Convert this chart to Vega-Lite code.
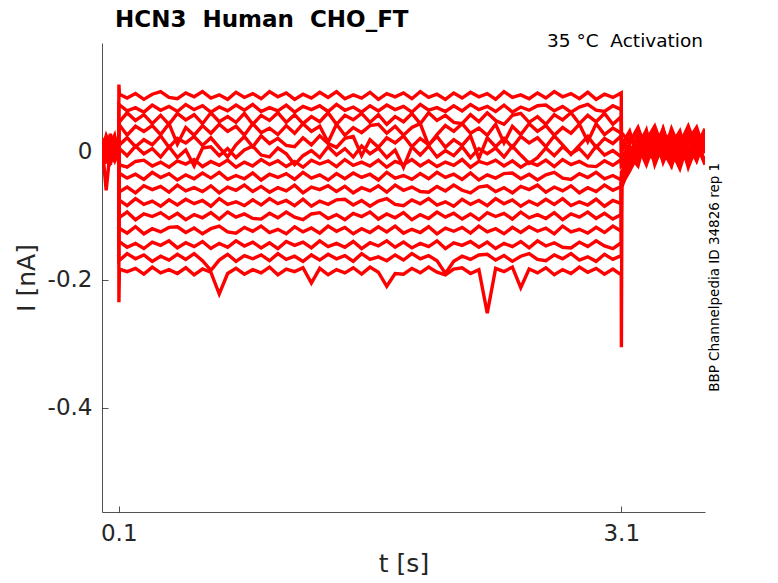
{
  "$schema": "https://vega.github.io/schema/vega-lite/v6.json",
  "width": 603,
  "height": 469,
  "autosize": {"type": "none"},
  "padding": {"left": 102, "top": 43, "right": 73, "bottom": 71},
  "background": "white",
  "datasets": {
    "traces": [
      {"s":1,"t":0,"i":0.01},{"s":1,"t":0.025,"i":-0.008},{"s":1,"t":0.05,"i":0.02},{"s":1,"t":0.075,"i":0.005},{"s":1,"t":0.1,"i":0.012},
      {"s":1,"t":0.101,"i":0.105},{"s":1,"t":0.104,"i":0.09},{"s":1,"t":0.15,"i":0.084},{"s":1,"t":0.2,"i":0.091},{"s":1,"t":0.25,"i":0.082},{"s":1,"t":0.3,"i":0.09},{"s":1,"t":0.35,"i":0.094},{"s":1,"t":0.4,"i":0.085},{"s":1,"t":0.45,"i":0.083},{"s":1,"t":0.5,"i":0.092},{"s":1,"t":0.55,"i":0.086},
      {"s":1,"t":0.6,"i":0.094},{"s":1,"t":0.65,"i":0.084},{"s":1,"t":0.7,"i":0.089},{"s":1,"t":0.75,"i":0.082},{"s":1,"t":0.8,"i":0.093},{"s":1,"t":0.85,"i":0.085},{"s":1,"t":0.9,"i":0.091},{"s":1,"t":0.95,"i":0.083},{"s":1,"t":1,"i":0.094},{"s":1,"t":1.05,"i":0.086},
      {"s":1,"t":1.1,"i":0.092},{"s":1,"t":1.15,"i":0.082},{"s":1,"t":1.2,"i":0.09},{"s":1,"t":1.25,"i":0.084},{"s":1,"t":1.3,"i":0.093},{"s":1,"t":1.35,"i":0.085},{"s":1,"t":1.4,"i":0.094},{"s":1,"t":1.45,"i":0.083},{"s":1,"t":1.5,"i":0.089},{"s":1,"t":1.55,"i":0.084},
      {"s":1,"t":1.6,"i":0.093},{"s":1,"t":1.65,"i":0.082},{"s":1,"t":1.7,"i":0.091},{"s":1,"t":1.75,"i":0.086},{"s":1,"t":1.8,"i":0.092},{"s":1,"t":1.85,"i":0.083},{"s":1,"t":1.9,"i":0.094},{"s":1,"t":1.95,"i":0.085},{"s":1,"t":2,"i":0.09},{"s":1,"t":2.05,"i":0.082},
      {"s":1,"t":2.1,"i":0.092},{"s":1,"t":2.15,"i":0.084},{"s":1,"t":2.2,"i":0.093},{"s":1,"t":2.25,"i":0.086},{"s":1,"t":2.3,"i":0.091},{"s":1,"t":2.35,"i":0.082},{"s":1,"t":2.4,"i":0.094},{"s":1,"t":2.45,"i":0.085},{"s":1,"t":2.5,"i":0.089},{"s":1,"t":2.55,"i":0.083},
      {"s":1,"t":2.6,"i":0.092},{"s":1,"t":2.65,"i":0.084},{"s":1,"t":2.7,"i":0.094},{"s":1,"t":2.75,"i":0.086},{"s":1,"t":2.8,"i":0.091},{"s":1,"t":2.85,"i":0.083},{"s":1,"t":2.9,"i":0.093},{"s":1,"t":2.95,"i":0.082},{"s":1,"t":3,"i":0.09},{"s":1,"t":3.05,"i":0.085},{"s":1,"t":3.1,"i":0.092},
      {"s":1,"t":3.101,"i":0.03},{"s":1,"t":3.15,"i":0.015},{"s":1,"t":3.2,"i":0.038},{"s":1,"t":3.25,"i":0.002},{"s":1,"t":3.3,"i":0.025},{"s":1,"t":3.35,"i":-0.01},{"s":1,"t":3.4,"i":0.032},{"s":1,"t":3.45,"i":0.012},{"s":1,"t":3.5,"i":0.04},{"s":1,"t":3.55,"i":0.005},{"s":1,"t":3.6,"i":0.028},

      {"s":2,"t":0,"i":-0.005},{"s":2,"t":0.025,"i":0.015},{"s":2,"t":0.05,"i":-0.012},{"s":2,"t":0.075,"i":0.022},{"s":2,"t":0.1,"i":0},
      {"s":2,"t":0.101,"i":0.074},{"s":2,"t":0.15,"i":0.064},{"s":2,"t":0.2,"i":0.069},{"s":2,"t":0.25,"i":0.062},{"s":2,"t":0.3,"i":0.073},{"s":2,"t":0.35,"i":0.065},{"s":2,"t":0.4,"i":0.071},{"s":2,"t":0.45,"i":0.063},{"s":2,"t":0.5,"i":0.074},{"s":2,"t":0.55,"i":0.066},
      {"s":2,"t":0.6,"i":0.072},{"s":2,"t":0.65,"i":0.062},{"s":2,"t":0.7,"i":0.07},{"s":2,"t":0.75,"i":0.064},{"s":2,"t":0.8,"i":0.073},{"s":2,"t":0.85,"i":0.065},{"s":2,"t":0.9,"i":0.074},{"s":2,"t":0.95,"i":0.063},{"s":2,"t":1,"i":0.069},{"s":2,"t":1.05,"i":0.064},
      {"s":2,"t":1.1,"i":0.073},{"s":2,"t":1.15,"i":0.062},{"s":2,"t":1.2,"i":0.071},{"s":2,"t":1.25,"i":0.066},{"s":2,"t":1.3,"i":0.072},{"s":2,"t":1.35,"i":0.063},{"s":2,"t":1.4,"i":0.074},{"s":2,"t":1.45,"i":0.065},{"s":2,"t":1.5,"i":0.07},{"s":2,"t":1.55,"i":0.062},
      {"s":2,"t":1.6,"i":0.072},{"s":2,"t":1.65,"i":0.064},{"s":2,"t":1.7,"i":0.073},{"s":2,"t":1.75,"i":0.066},{"s":2,"t":1.8,"i":0.071},{"s":2,"t":1.85,"i":0.062},{"s":2,"t":1.9,"i":0.074},{"s":2,"t":1.95,"i":0.065},{"s":2,"t":2,"i":0.069},{"s":2,"t":2.05,"i":0.063},
      {"s":2,"t":2.1,"i":0.072},{"s":2,"t":2.15,"i":0.064},{"s":2,"t":2.2,"i":0.074},{"s":2,"t":2.25,"i":0.066},{"s":2,"t":2.3,"i":0.071},{"s":2,"t":2.35,"i":0.063},{"s":2,"t":2.4,"i":0.073},{"s":2,"t":2.45,"i":0.062},{"s":2,"t":2.5,"i":0.07},{"s":2,"t":2.55,"i":0.065},
      {"s":2,"t":2.6,"i":0.072},{"s":2,"t":2.65,"i":0.073},{"s":2,"t":2.7,"i":0.064},{"s":2,"t":2.75,"i":0.071},{"s":2,"t":2.8,"i":0.062},{"s":2,"t":2.85,"i":0.07},{"s":2,"t":2.9,"i":0.074},{"s":2,"t":2.95,"i":0.065},{"s":2,"t":3,"i":0.063},{"s":2,"t":3.05,"i":0.072},{"s":2,"t":3.1,"i":0.066},
      {"s":2,"t":3.101,"i":0.02},{"s":2,"t":3.15,"i":-0.005},{"s":2,"t":3.2,"i":0.028},{"s":2,"t":3.25,"i":0.01},{"s":2,"t":3.3,"i":-0.015},{"s":2,"t":3.35,"i":0.035},{"s":2,"t":3.4,"i":0},{"s":2,"t":3.45,"i":0.022},{"s":2,"t":3.5,"i":-0.008},{"s":2,"t":3.55,"i":0.03},{"s":2,"t":3.6,"i":0.014},

      {"s":3,"t":0,"i":0.018},{"s":3,"t":0.025,"i":0.002},{"s":3,"t":0.05,"i":-0.015},{"s":3,"t":0.075,"i":0.01},{"s":3,"t":0.1,"i":-0.006},
      {"s":3,"t":0.101,"i":0.046},{"s":3,"t":0.15,"i":0.061},{"s":3,"t":0.2,"i":0.049},{"s":3,"t":0.25,"i":0.058},{"s":3,"t":0.3,"i":0.044},{"s":3,"t":0.35,"i":0.057},{"s":3,"t":0.4,"i":0.043},{"s":3,"t":0.45,"i":0.06},{"s":3,"t":0.5,"i":0.05},{"s":3,"t":0.55,"i":0.058},
      {"s":3,"t":0.6,"i":0.044},{"s":3,"t":0.65,"i":0.061},{"s":3,"t":0.7,"i":0.047},{"s":3,"t":0.75,"i":0.055},{"s":3,"t":0.8,"i":0.046},{"s":3,"t":0.85,"i":0.06},{"s":3,"t":0.9,"i":0.043},{"s":3,"t":0.95,"i":0.057},{"s":3,"t":1,"i":0.049},{"s":3,"t":1.05,"i":0.061},
      {"s":3,"t":1.1,"i":0.046},{"s":3,"t":1.15,"i":0.058},{"s":3,"t":1.2,"i":0.044},{"s":3,"t":1.25,"i":0.055},{"s":3,"t":1.3,"i":0.047},{"s":3,"t":1.35,"i":0.061},{"s":3,"t":1.4,"i":0.043},{"s":3,"t":1.45,"i":0.057},{"s":3,"t":1.5,"i":0.05},{"s":3,"t":1.55,"i":0.06},
      {"s":3,"t":1.6,"i":0.046},{"s":3,"t":1.65,"i":0.058},{"s":3,"t":1.7,"i":0.043},{"s":3,"t":1.75,"i":0.055},{"s":3,"t":1.8,"i":0.047},{"s":3,"t":1.85,"i":0.06},{"s":3,"t":1.9,"i":0.044},{"s":3,"t":1.95,"i":0.061},{"s":3,"t":2,"i":0.049},{"s":3,"t":2.05,"i":0.057},
      {"s":3,"t":2.1,"i":0.046},{"s":3,"t":2.15,"i":0.044},{"s":3,"t":2.2,"i":0.058},{"s":3,"t":2.25,"i":0.047},{"s":3,"t":2.3,"i":0.061},{"s":3,"t":2.35,"i":0.049},{"s":3,"t":2.4,"i":0.043},{"s":3,"t":2.45,"i":0.057},{"s":3,"t":2.5,"i":0.06},{"s":3,"t":2.55,"i":0.046},
      {"s":3,"t":2.6,"i":0.055},{"s":3,"t":2.65,"i":0.043},{"s":3,"t":2.7,"i":0.058},{"s":3,"t":2.75,"i":0.05},{"s":3,"t":2.8,"i":0.061},{"s":3,"t":2.85,"i":0.044},{"s":3,"t":2.9,"i":0.057},{"s":3,"t":2.95,"i":0.047},{"s":3,"t":3,"i":0.06},{"s":3,"t":3.05,"i":0.043},{"s":3,"t":3.1,"i":0.055},
      {"s":3,"t":3.101,"i":0.01},{"s":3,"t":3.15,"i":0.032},{"s":3,"t":3.2,"i":-0.012},{"s":3,"t":3.25,"i":0.018},{"s":3,"t":3.3,"i":0.04},{"s":3,"t":3.35,"i":0.004},{"s":3,"t":3.4,"i":0.02},{"s":3,"t":3.45,"i":-0.018},{"s":3,"t":3.5,"i":0.026},{"s":3,"t":3.55,"i":0.008},{"s":3,"t":3.6,"i":0.036},

      {"s":4,"t":0,"i":0},{"s":4,"t":0.025,"i":0.025},{"s":4,"t":0.05,"i":0.008},{"s":4,"t":0.075,"i":-0.01},{"s":4,"t":0.1,"i":0.015},
      {"s":4,"t":0.101,"i":0.043},{"s":4,"t":0.15,"i":0.026},{"s":4,"t":0.2,"i":0.04},{"s":4,"t":0.25,"i":0.032},{"s":4,"t":0.3,"i":0.041},{"s":4,"t":0.35,"i":0.027},{"s":4,"t":0.4,"i":0.044},{"s":4,"t":0.45,"i":0.012},{"s":4,"t":0.5,"i":0.038},{"s":4,"t":0.55,"i":0.026},
      {"s":4,"t":0.6,"i":0.041},{"s":4,"t":0.65,"i":0.029},{"s":4,"t":0.7,"i":0.043},{"s":4,"t":0.75,"i":0.032},{"s":4,"t":0.8,"i":0.04},{"s":4,"t":0.85,"i":0.026},{"s":4,"t":0.9,"i":0.044},{"s":4,"t":0.95,"i":0.03},{"s":4,"t":1,"i":0.037},{"s":4,"t":1.05,"i":0.027},
      {"s":4,"t":1.1,"i":0.041},{"s":4,"t":1.15,"i":0.029},{"s":4,"t":1.2,"i":0.044},{"s":4,"t":1.25,"i":0.032},{"s":4,"t":1.3,"i":0.04},{"s":4,"t":1.35,"i":0.015},{"s":4,"t":1.4,"i":0.043},{"s":4,"t":1.45,"i":0.026},{"s":4,"t":1.5,"i":0.038},{"s":4,"t":1.55,"i":0.03},
      {"s":4,"t":1.6,"i":0.041},{"s":4,"t":1.65,"i":0.043},{"s":4,"t":1.7,"i":0.029},{"s":4,"t":1.75,"i":0.04},{"s":4,"t":1.8,"i":0.026},{"s":4,"t":1.85,"i":0.038},{"s":4,"t":1.9,"i":0.044},{"s":4,"t":1.95,"i":0.01},{"s":4,"t":2,"i":0.027},{"s":4,"t":2.05,"i":0.041},
      {"s":4,"t":2.1,"i":0.032},{"s":4,"t":2.15,"i":0.044},{"s":4,"t":2.2,"i":0.029},{"s":4,"t":2.25,"i":0.037},{"s":4,"t":2.3,"i":0.026},{"s":4,"t":2.35,"i":0.043},{"s":4,"t":2.4,"i":0.014},{"s":4,"t":2.45,"i":0.04},{"s":4,"t":2.5,"i":0.027},{"s":4,"t":2.55,"i":0.044},
      {"s":4,"t":2.6,"i":0.032},{"s":4,"t":2.65,"i":0.041},{"s":4,"t":2.7,"i":0.026},{"s":4,"t":2.75,"i":0.038},{"s":4,"t":2.8,"i":0.029},{"s":4,"t":2.85,"i":0.043},{"s":4,"t":2.9,"i":0.016},{"s":4,"t":2.95,"i":0.044},{"s":4,"t":3,"i":0.027},{"s":4,"t":3.05,"i":0.037},{"s":4,"t":3.1,"i":0.029},
      {"s":4,"t":3.101,"i":0},{"s":4,"t":3.15,"i":0.022},{"s":4,"t":3.2,"i":0.006},{"s":4,"t":3.25,"i":0.034},{"s":4,"t":3.3,"i":-0.02},{"s":4,"t":3.35,"i":0.014},{"s":4,"t":3.4,"i":0.03},{"s":4,"t":3.45,"i":-0.005},{"s":4,"t":3.5,"i":0.018},{"s":4,"t":3.55,"i":0.038},{"s":4,"t":3.6,"i":-0.002},

      {"s":5,"t":0,"i":-0.012},{"s":5,"t":0.025,"i":0.005},{"s":5,"t":0.05,"i":0.028},{"s":5,"t":0.075,"i":-0.004},{"s":5,"t":0.1,"i":0.008},
      {"s":5,"t":0.101,"i":0.01},{"s":5,"t":0.15,"i":0.022},{"s":5,"t":0.2,"i":0.008},{"s":5,"t":0.25,"i":0.019},{"s":5,"t":0.3,"i":0.011},{"s":5,"t":0.35,"i":0.025},{"s":5,"t":0.4,"i":0.007},{"s":5,"t":0.45,"i":0.021},{"s":5,"t":0.5,"i":0.014},{"s":5,"t":0.55,"i":0.024},
      {"s":5,"t":0.6,"i":0.01},{"s":5,"t":0.65,"i":0.022},{"s":5,"t":0.7,"i":0.007},{"s":5,"t":0.75,"i":-0.008},{"s":5,"t":0.8,"i":0.011},{"s":5,"t":0.85,"i":0.024},{"s":5,"t":0.9,"i":0.008},{"s":5,"t":0.95,"i":0.025},{"s":5,"t":1,"i":0.013},{"s":5,"t":1.05,"i":0.021},
      {"s":5,"t":1.1,"i":0.01},{"s":5,"t":1.15,"i":0.008},{"s":5,"t":1.2,"i":0.022},{"s":5,"t":1.25,"i":0.011},{"s":5,"t":1.3,"i":0.025},{"s":5,"t":1.35,"i":0.013},{"s":5,"t":1.4,"i":0.007},{"s":5,"t":1.45,"i":0.021},{"s":5,"t":1.5,"i":0.024},{"s":5,"t":1.55,"i":-0.006},
      {"s":5,"t":1.6,"i":0.019},{"s":5,"t":1.65,"i":0.007},{"s":5,"t":1.7,"i":0.022},{"s":5,"t":1.75,"i":0.014},{"s":5,"t":1.8,"i":0.025},{"s":5,"t":1.85,"i":0.008},{"s":5,"t":1.9,"i":0.021},{"s":5,"t":1.95,"i":0.011},{"s":5,"t":2,"i":0.024},{"s":5,"t":2.05,"i":0.007},
      {"s":5,"t":2.1,"i":0.019},{"s":5,"t":2.15,"i":0.01},{"s":5,"t":2.2,"i":0.025},{"s":5,"t":2.25,"i":-0.01},{"s":5,"t":2.3,"i":0.022},{"s":5,"t":2.35,"i":0.008},{"s":5,"t":2.4,"i":0.021},{"s":5,"t":2.45,"i":0.007},{"s":5,"t":2.5,"i":0.024},{"s":5,"t":2.55,"i":0.014},
      {"s":5,"t":2.6,"i":0.022},{"s":5,"t":2.65,"i":0.008},{"s":5,"t":2.7,"i":0.025},{"s":5,"t":2.75,"i":0.011},{"s":5,"t":2.8,"i":-0.004},{"s":5,"t":2.85,"i":0.01},{"s":5,"t":2.9,"i":0.024},{"s":5,"t":2.95,"i":0.007},{"s":5,"t":3,"i":0.021},{"s":5,"t":3.05,"i":0.013},{"s":5,"t":3.1,"i":0.025},
      {"s":5,"t":3.101,"i":-0.01},{"s":5,"t":3.15,"i":0.012},{"s":5,"t":3.2,"i":0.036},{"s":5,"t":3.25,"i":-0.008},{"s":5,"t":3.3,"i":0.024},{"s":5,"t":3.35,"i":0.002},{"s":5,"t":3.4,"i":-0.022},{"s":5,"t":3.45,"i":0.028},{"s":5,"t":3.5,"i":0.01},{"s":5,"t":3.55,"i":-0.014},{"s":5,"t":3.6,"i":0.024},

      {"s":6,"t":0,"i":0.022},{"s":6,"t":0.025,"i":-0.01},{"s":6,"t":0.05,"i":0.004},{"s":6,"t":0.075,"i":0.016},{"s":6,"t":0.1,"i":-0.014},
      {"s":6,"t":0.101,"i":0.006},{"s":6,"t":0.15,"i":-0.006},{"s":6,"t":0.2,"i":0.009},{"s":6,"t":0.25,"i":-0.003},{"s":6,"t":0.3,"i":0.005},{"s":6,"t":0.35,"i":-0.008},{"s":6,"t":0.4,"i":0.008},{"s":6,"t":0.45,"i":-0.009},{"s":6,"t":0.5,"i":0.003},{"s":6,"t":0.55,"i":-0.022},
      {"s":6,"t":0.6,"i":0.006},{"s":6,"t":0.65,"i":0.008},{"s":6,"t":0.7,"i":-0.006},{"s":6,"t":0.75,"i":0.005},{"s":6,"t":0.8,"i":-0.009},{"s":6,"t":0.85,"i":0.003},{"s":6,"t":0.9,"i":0.009},{"s":6,"t":0.95,"i":-0.005},{"s":6,"t":1,"i":-0.008},{"s":6,"t":1.05,"i":0.006},
      {"s":6,"t":1.1,"i":-0.003},{"s":6,"t":1.15,"i":-0.02},{"s":6,"t":1.2,"i":-0.006},{"s":6,"t":1.25,"i":0.002},{"s":6,"t":1.3,"i":-0.009},{"s":6,"t":1.35,"i":0.008},{"s":6,"t":1.4,"i":-0.005},{"s":6,"t":1.45,"i":0.005},{"s":6,"t":1.5,"i":-0.008},{"s":6,"t":1.55,"i":0.009},
      {"s":6,"t":1.6,"i":-0.003},{"s":6,"t":1.65,"i":0.006},{"s":6,"t":1.7,"i":-0.009},{"s":6,"t":1.75,"i":0.003},{"s":6,"t":1.8,"i":-0.024},{"s":6,"t":1.85,"i":0.008},{"s":6,"t":1.9,"i":-0.005},{"s":6,"t":1.95,"i":0.009},{"s":6,"t":2,"i":-0.008},{"s":6,"t":2.05,"i":0.002},
      {"s":6,"t":2.1,"i":-0.006},{"s":6,"t":2.15,"i":0.008},{"s":6,"t":2.2,"i":-0.009},{"s":6,"t":2.25,"i":0.005},{"s":6,"t":2.3,"i":-0.003},{"s":6,"t":2.35,"i":0.006},{"s":6,"t":2.4,"i":-0.008},{"s":6,"t":2.45,"i":0.009},{"s":6,"t":2.5,"i":-0.005},{"s":6,"t":2.55,"i":-0.018},
      {"s":6,"t":2.6,"i":-0.009},{"s":6,"t":2.65,"i":0.006},{"s":6,"t":2.7,"i":-0.006},{"s":6,"t":2.75,"i":0.008},{"s":6,"t":2.8,"i":-0.003},{"s":6,"t":2.85,"i":0.005},{"s":6,"t":2.9,"i":-0.009},{"s":6,"t":2.95,"i":0.009},{"s":6,"t":3,"i":-0.005},{"s":6,"t":3.05,"i":0.002},{"s":6,"t":3.1,"i":-0.008},
      {"s":6,"t":3.101,"i":-0.02},{"s":6,"t":3.15,"i":0.002},{"s":6,"t":3.2,"i":0.016},{"s":6,"t":3.25,"i":0.03},{"s":6,"t":3.3,"i":0},{"s":6,"t":3.35,"i":0.026},{"s":6,"t":3.4,"i":0.012},{"s":6,"t":3.45,"i":-0.01},{"s":6,"t":3.5,"i":0.034},{"s":6,"t":3.55,"i":0.016},{"s":6,"t":3.6,"i":0.004},

      {"s":7,"t":0,"i":0.006},{"s":7,"t":0.025,"i":0.018},{"s":7,"t":0.05,"i":-0.02},{"s":7,"t":0.075,"i":0.012},{"s":7,"t":0.1,"i":0.003},
      {"s":7,"t":0.101,"i":-0.02},{"s":7,"t":0.15,"i":-0.024},{"s":7,"t":0.2,"i":-0.015},{"s":7,"t":0.25,"i":-0.013},{"s":7,"t":0.3,"i":-0.022},{"s":7,"t":0.35,"i":-0.016},{"s":7,"t":0.4,"i":-0.024},{"s":7,"t":0.45,"i":-0.014},{"s":7,"t":0.5,"i":-0.019},{"s":7,"t":0.55,"i":-0.012},
      {"s":7,"t":0.6,"i":-0.023},{"s":7,"t":0.65,"i":-0.015},{"s":7,"t":0.7,"i":-0.021},{"s":7,"t":0.75,"i":-0.013},{"s":7,"t":0.8,"i":-0.024},{"s":7,"t":0.85,"i":-0.016},{"s":7,"t":0.9,"i":-0.022},{"s":7,"t":0.95,"i":-0.012},{"s":7,"t":1,"i":-0.02},{"s":7,"t":1.05,"i":-0.014},
      {"s":7,"t":1.1,"i":-0.023},{"s":7,"t":1.15,"i":-0.015},{"s":7,"t":1.2,"i":-0.024},{"s":7,"t":1.25,"i":-0.013},{"s":7,"t":1.3,"i":-0.019},{"s":7,"t":1.35,"i":-0.014},{"s":7,"t":1.4,"i":-0.023},{"s":7,"t":1.45,"i":-0.012},{"s":7,"t":1.5,"i":-0.021},{"s":7,"t":1.55,"i":-0.016},
      {"s":7,"t":1.6,"i":-0.022},{"s":7,"t":1.65,"i":-0.013},{"s":7,"t":1.7,"i":-0.024},{"s":7,"t":1.75,"i":-0.015},{"s":7,"t":1.8,"i":-0.02},{"s":7,"t":1.85,"i":-0.012},{"s":7,"t":1.9,"i":-0.022},{"s":7,"t":1.95,"i":-0.014},{"s":7,"t":2,"i":-0.023},{"s":7,"t":2.05,"i":-0.016},
      {"s":7,"t":2.1,"i":-0.021},{"s":7,"t":2.15,"i":-0.012},{"s":7,"t":2.2,"i":-0.024},{"s":7,"t":2.25,"i":-0.015},{"s":7,"t":2.3,"i":-0.019},{"s":7,"t":2.35,"i":-0.013},{"s":7,"t":2.4,"i":-0.022},{"s":7,"t":2.45,"i":-0.014},{"s":7,"t":2.5,"i":-0.024},{"s":7,"t":2.55,"i":-0.016},
      {"s":7,"t":2.6,"i":-0.021},{"s":7,"t":2.65,"i":-0.013},{"s":7,"t":2.7,"i":-0.023},{"s":7,"t":2.75,"i":-0.012},{"s":7,"t":2.8,"i":-0.02},{"s":7,"t":2.85,"i":-0.015},{"s":7,"t":2.9,"i":-0.022},{"s":7,"t":2.95,"i":-0.023},{"s":7,"t":3,"i":-0.014},{"s":7,"t":3.05,"i":-0.021},{"s":7,"t":3.1,"i":-0.012},
      {"s":7,"t":3.101,"i":-0.025},{"s":7,"t":3.15,"i":0.008},{"s":7,"t":3.2,"i":-0.014},{"s":7,"t":3.25,"i":0.022},{"s":7,"t":3.3,"i":0.014},{"s":7,"t":3.35,"i":-0.006},{"s":7,"t":3.4,"i":0.036},{"s":7,"t":3.45,"i":0.004},{"s":7,"t":3.5,"i":-0.018},{"s":7,"t":3.55,"i":0.026},{"s":7,"t":3.6,"i":0.01},

      {"s":8,"t":0,"i":-0.015},{"s":8,"t":0.025,"i":0.01},{"s":8,"t":0.05,"i":0.002},{"s":8,"t":0.075,"i":-0.008},{"s":8,"t":0.1,"i":0.02},
      {"s":8,"t":0.101,"i":-0.033},{"s":8,"t":0.15,"i":-0.041},{"s":8,"t":0.2,"i":-0.035},{"s":8,"t":0.25,"i":-0.043},{"s":8,"t":0.3,"i":-0.032},{"s":8,"t":0.35,"i":-0.04},{"s":8,"t":0.4,"i":-0.034},{"s":8,"t":0.45,"i":-0.044},{"s":8,"t":0.5,"i":-0.036},{"s":8,"t":0.55,"i":-0.042},
      {"s":8,"t":0.6,"i":-0.033},{"s":8,"t":0.65,"i":-0.041},{"s":8,"t":0.7,"i":-0.032},{"s":8,"t":0.75,"i":-0.043},{"s":8,"t":0.8,"i":-0.037},{"s":8,"t":0.85,"i":-0.042},{"s":8,"t":0.9,"i":-0.033},{"s":8,"t":0.95,"i":-0.044},{"s":8,"t":1,"i":-0.035},{"s":8,"t":1.05,"i":-0.04},
      {"s":8,"t":1.1,"i":-0.034},{"s":8,"t":1.15,"i":-0.043},{"s":8,"t":1.2,"i":-0.032},{"s":8,"t":1.25,"i":-0.041},{"s":8,"t":1.3,"i":-0.036},{"s":8,"t":1.35,"i":-0.044},{"s":8,"t":1.4,"i":-0.034},{"s":8,"t":1.45,"i":-0.042},{"s":8,"t":1.5,"i":-0.033},{"s":8,"t":1.55,"i":-0.04},
      {"s":8,"t":1.6,"i":-0.035},{"s":8,"t":1.65,"i":-0.044},{"s":8,"t":1.7,"i":-0.032},{"s":8,"t":1.75,"i":-0.041},{"s":8,"t":1.8,"i":-0.037},{"s":8,"t":1.85,"i":-0.043},{"s":8,"t":1.9,"i":-0.034},{"s":8,"t":1.95,"i":-0.042},{"s":8,"t":2,"i":-0.032},{"s":8,"t":2.05,"i":-0.04},
      {"s":8,"t":2.1,"i":-0.035},{"s":8,"t":2.15,"i":-0.043},{"s":8,"t":2.2,"i":-0.033},{"s":8,"t":2.25,"i":-0.044},{"s":8,"t":2.3,"i":-0.036},{"s":8,"t":2.35,"i":-0.041},{"s":8,"t":2.4,"i":-0.034},{"s":8,"t":2.45,"i":-0.033},{"s":8,"t":2.5,"i":-0.042},{"s":8,"t":2.55,"i":-0.035},
      {"s":8,"t":2.6,"i":-0.044},{"s":8,"t":2.65,"i":-0.036},{"s":8,"t":2.7,"i":-0.032},{"s":8,"t":2.75,"i":-0.041},{"s":8,"t":2.8,"i":-0.043},{"s":8,"t":2.85,"i":-0.034},{"s":8,"t":2.9,"i":-0.04},{"s":8,"t":2.95,"i":-0.032},{"s":8,"t":3,"i":-0.042},{"s":8,"t":3.05,"i":-0.037},{"s":8,"t":3.1,"i":-0.044},
      {"s":8,"t":3.101,"i":-0.032},{"s":8,"t":3.15,"i":-0.01},{"s":8,"t":3.2,"i":0.02},{"s":8,"t":3.25,"i":0.006},{"s":8,"t":3.3,"i":0.032},{"s":8,"t":3.35,"i":-0.016},{"s":8,"t":3.4,"i":0.018},{"s":8,"t":3.45,"i":0.028},{"s":8,"t":3.5,"i":0},{"s":8,"t":3.55,"i":0.012},{"s":8,"t":3.6,"i":-0.02},

      {"s":9,"t":0,"i":0.014},{"s":9,"t":0.025,"i":-0.004},{"s":9,"t":0.05,"i":0.012},{"s":9,"t":0.075,"i":0.026},{"s":9,"t":0.1,"i":-0.01},
      {"s":9,"t":0.101,"i":-0.063},{"s":9,"t":0.15,"i":-0.055},{"s":9,"t":0.2,"i":-0.064},{"s":9,"t":0.25,"i":-0.053},{"s":9,"t":0.3,"i":-0.059},{"s":9,"t":0.35,"i":-0.054},{"s":9,"t":0.4,"i":-0.063},{"s":9,"t":0.45,"i":-0.052},{"s":9,"t":0.5,"i":-0.061},{"s":9,"t":0.55,"i":-0.056},
      {"s":9,"t":0.6,"i":-0.062},{"s":9,"t":0.65,"i":-0.053},{"s":9,"t":0.7,"i":-0.064},{"s":9,"t":0.75,"i":-0.055},{"s":9,"t":0.8,"i":-0.06},{"s":9,"t":0.85,"i":-0.052},{"s":9,"t":0.9,"i":-0.062},{"s":9,"t":0.95,"i":-0.054},{"s":9,"t":1,"i":-0.063},{"s":9,"t":1.05,"i":-0.056},
      {"s":9,"t":1.1,"i":-0.061},{"s":9,"t":1.15,"i":-0.052},{"s":9,"t":1.2,"i":-0.064},{"s":9,"t":1.25,"i":-0.055},{"s":9,"t":1.3,"i":-0.059},{"s":9,"t":1.35,"i":-0.053},{"s":9,"t":1.4,"i":-0.062},{"s":9,"t":1.45,"i":-0.054},{"s":9,"t":1.5,"i":-0.064},{"s":9,"t":1.55,"i":-0.056},
      {"s":9,"t":1.6,"i":-0.061},{"s":9,"t":1.65,"i":-0.053},{"s":9,"t":1.7,"i":-0.063},{"s":9,"t":1.75,"i":-0.052},{"s":9,"t":1.8,"i":-0.06},{"s":9,"t":1.85,"i":-0.055},{"s":9,"t":1.9,"i":-0.062},{"s":9,"t":1.95,"i":-0.063},{"s":9,"t":2,"i":-0.054},{"s":9,"t":2.05,"i":-0.061},
      {"s":9,"t":2.1,"i":-0.052},{"s":9,"t":2.15,"i":-0.06},{"s":9,"t":2.2,"i":-0.064},{"s":9,"t":2.25,"i":-0.055},{"s":9,"t":2.3,"i":-0.053},{"s":9,"t":2.35,"i":-0.062},{"s":9,"t":2.4,"i":-0.056},{"s":9,"t":2.45,"i":-0.064},{"s":9,"t":2.5,"i":-0.054},{"s":9,"t":2.55,"i":-0.059},
      {"s":9,"t":2.6,"i":-0.052},{"s":9,"t":2.65,"i":-0.063},{"s":9,"t":2.7,"i":-0.055},{"s":9,"t":2.75,"i":-0.061},{"s":9,"t":2.8,"i":-0.053},{"s":9,"t":2.85,"i":-0.064},{"s":9,"t":2.9,"i":-0.056},{"s":9,"t":2.95,"i":-0.062},{"s":9,"t":3,"i":-0.052},{"s":9,"t":3.05,"i":-0.06},{"s":9,"t":3.1,"i":-0.054},
      {"s":9,"t":3.101,"i":-0.038},{"s":9,"t":3.15,"i":0},{"s":9,"t":3.2,"i":0.01},{"s":9,"t":3.25,"i":-0.02},{"s":9,"t":3.3,"i":0.018},{"s":9,"t":3.35,"i":0.03},{"s":9,"t":3.4,"i":-0.008},{"s":9,"t":3.45,"i":0.014},{"s":9,"t":3.5,"i":0.024},{"s":9,"t":3.55,"i":-0.012},{"s":9,"t":3.6,"i":0.032},

      {"s":10,"t":0,"i":0.003},{"s":10,"t":0.025,"i":-0.018},{"s":10,"t":0.05,"i":0.016},{"s":10,"t":0.075,"i":0},{"s":10,"t":0.1,"i":0.009},
      {"s":10,"t":0.101,"i":-0.075},{"s":10,"t":0.15,"i":-0.084},{"s":10,"t":0.2,"i":-0.073},{"s":10,"t":0.25,"i":-0.082},{"s":10,"t":0.3,"i":-0.077},{"s":10,"t":0.35,"i":-0.085},{"s":10,"t":0.4,"i":-0.075},{"s":10,"t":0.45,"i":-0.083},{"s":10,"t":0.5,"i":-0.074},{"s":10,"t":0.55,"i":-0.081},
      {"s":10,"t":0.6,"i":-0.076},{"s":10,"t":0.65,"i":-0.085},{"s":10,"t":0.7,"i":-0.073},{"s":10,"t":0.75,"i":-0.082},{"s":10,"t":0.8,"i":-0.078},{"s":10,"t":0.85,"i":-0.084},{"s":10,"t":0.9,"i":-0.075},{"s":10,"t":0.95,"i":-0.083},{"s":10,"t":1,"i":-0.073},{"s":10,"t":1.05,"i":-0.081},
      {"s":10,"t":1.1,"i":-0.076},{"s":10,"t":1.15,"i":-0.084},{"s":10,"t":1.2,"i":-0.074},{"s":10,"t":1.25,"i":-0.085},{"s":10,"t":1.3,"i":-0.077},{"s":10,"t":1.35,"i":-0.082},{"s":10,"t":1.4,"i":-0.075},{"s":10,"t":1.45,"i":-0.074},{"s":10,"t":1.5,"i":-0.083},{"s":10,"t":1.55,"i":-0.076},
      {"s":10,"t":1.6,"i":-0.085},{"s":10,"t":1.65,"i":-0.077},{"s":10,"t":1.7,"i":-0.073},{"s":10,"t":1.75,"i":-0.082},{"s":10,"t":1.8,"i":-0.084},{"s":10,"t":1.85,"i":-0.075},{"s":10,"t":1.9,"i":-0.081},{"s":10,"t":1.95,"i":-0.073},{"s":10,"t":2,"i":-0.083},{"s":10,"t":2.05,"i":-0.078},
      {"s":10,"t":2.1,"i":-0.085},{"s":10,"t":2.15,"i":-0.074},{"s":10,"t":2.2,"i":-0.082},{"s":10,"t":2.25,"i":-0.076},{"s":10,"t":2.3,"i":-0.084},{"s":10,"t":2.35,"i":-0.073},{"s":10,"t":2.4,"i":-0.081},{"s":10,"t":2.45,"i":-0.075},{"s":10,"t":2.5,"i":-0.085},{"s":10,"t":2.55,"i":-0.077},
      {"s":10,"t":2.6,"i":-0.083},{"s":10,"t":2.65,"i":-0.074},{"s":10,"t":2.7,"i":-0.082},{"s":10,"t":2.75,"i":-0.073},{"s":10,"t":2.8,"i":-0.084},{"s":10,"t":2.85,"i":-0.078},{"s":10,"t":2.9,"i":-0.083},{"s":10,"t":2.95,"i":-0.074},{"s":10,"t":3,"i":-0.085},{"s":10,"t":3.05,"i":-0.076},{"s":10,"t":3.1,"i":-0.081},
      {"s":10,"t":3.101,"i":-0.042},{"s":10,"t":3.15,"i":-0.018},{"s":10,"t":3.2,"i":0.026},{"s":10,"t":3.25,"i":0.012},{"s":10,"t":3.3,"i":-0.006},{"s":10,"t":3.35,"i":0.02},{"s":10,"t":3.4,"i":0.002},{"s":10,"t":3.45,"i":-0.026},{"s":10,"t":3.5,"i":0.016},{"s":10,"t":3.55,"i":0.034},{"s":10,"t":3.6,"i":0.006},

      {"s":11,"t":0,"i":-0.008},{"s":11,"t":0.025,"i":0.024},{"s":11,"t":0.05,"i":-0.006},{"s":11,"t":0.075,"i":0.014},{"s":11,"t":0.1,"i":-0.002},
      {"s":11,"t":0.101,"i":-0.103},{"s":11,"t":0.15,"i":-0.094},{"s":11,"t":0.2,"i":-0.106},{"s":11,"t":0.25,"i":-0.097},{"s":11,"t":0.3,"i":-0.101},{"s":11,"t":0.35,"i":-0.095},{"s":11,"t":0.4,"i":-0.104},{"s":11,"t":0.45,"i":-0.096},{"s":11,"t":0.5,"i":-0.106},{"s":11,"t":0.55,"i":-0.098},
      {"s":11,"t":0.6,"i":-0.103},{"s":11,"t":0.65,"i":-0.095},{"s":11,"t":0.7,"i":-0.105},{"s":11,"t":0.75,"i":-0.094},{"s":11,"t":0.8,"i":-0.102},{"s":11,"t":0.85,"i":-0.097},{"s":11,"t":0.9,"i":-0.104},{"s":11,"t":0.95,"i":-0.105},{"s":11,"t":1,"i":-0.096},{"s":11,"t":1.05,"i":-0.103},
      {"s":11,"t":1.1,"i":-0.094},{"s":11,"t":1.15,"i":-0.102},{"s":11,"t":1.2,"i":-0.106},{"s":11,"t":1.25,"i":-0.097},{"s":11,"t":1.3,"i":-0.095},{"s":11,"t":1.35,"i":-0.104},{"s":11,"t":1.4,"i":-0.098},{"s":11,"t":1.45,"i":-0.106},{"s":11,"t":1.5,"i":-0.096},{"s":11,"t":1.55,"i":-0.101},
      {"s":11,"t":1.6,"i":-0.094},{"s":11,"t":1.65,"i":-0.105},{"s":11,"t":1.7,"i":-0.097},{"s":11,"t":1.75,"i":-0.103},{"s":11,"t":1.8,"i":-0.095},{"s":11,"t":1.85,"i":-0.106},{"s":11,"t":1.9,"i":-0.098},{"s":11,"t":1.95,"i":-0.104},{"s":11,"t":2,"i":-0.094},{"s":11,"t":2.05,"i":-0.102},
      {"s":11,"t":2.1,"i":-0.096},{"s":11,"t":2.15,"i":-0.105},{"s":11,"t":2.2,"i":-0.097},{"s":11,"t":2.25,"i":-0.106},{"s":11,"t":2.3,"i":-0.095},{"s":11,"t":2.35,"i":-0.101},{"s":11,"t":2.4,"i":-0.096},{"s":11,"t":2.45,"i":-0.105},{"s":11,"t":2.5,"i":-0.094},{"s":11,"t":2.55,"i":-0.103},
      {"s":11,"t":2.6,"i":-0.098},{"s":11,"t":2.65,"i":-0.104},{"s":11,"t":2.7,"i":-0.095},{"s":11,"t":2.75,"i":-0.106},{"s":11,"t":2.8,"i":-0.097},{"s":11,"t":2.85,"i":-0.102},{"s":11,"t":2.9,"i":-0.094},{"s":11,"t":2.95,"i":-0.104},{"s":11,"t":3,"i":-0.096},{"s":11,"t":3.05,"i":-0.105},{"s":11,"t":3.1,"i":-0.098},
      {"s":11,"t":3.101,"i":-0.045},{"s":11,"t":3.15,"i":-0.006},{"s":11,"t":3.2,"i":-0.022},{"s":11,"t":3.25,"i":0.028},{"s":11,"t":3.3,"i":0.008},{"s":11,"t":3.35,"i":-0.012},{"s":11,"t":3.4,"i":0.024},{"s":11,"t":3.45,"i":0.01},{"s":11,"t":3.5,"i":-0.004},{"s":11,"t":3.55,"i":0.02},{"s":11,"t":3.6,"i":-0.016},

      {"s":12,"t":0,"i":0.012},{"s":12,"t":0.025,"i":-0.06},{"s":12,"t":0.05,"i":0.006},{"s":12,"t":0.075,"i":-0.012},{"s":12,"t":0.1,"i":0.018},
      {"s":12,"t":0.101,"i":-0.119},{"s":12,"t":0.15,"i":-0.127},{"s":12,"t":0.2,"i":-0.117},{"s":12,"t":0.25,"i":-0.128},{"s":12,"t":0.3,"i":-0.12},{"s":12,"t":0.35,"i":-0.125},{"s":12,"t":0.4,"i":-0.118},{"s":12,"t":0.45,"i":-0.117},{"s":12,"t":0.5,"i":-0.126},{"s":12,"t":0.55,"i":-0.119},
      {"s":12,"t":0.6,"i":-0.128},{"s":12,"t":0.65,"i":-0.12},{"s":12,"t":0.7,"i":-0.116},{"s":12,"t":0.75,"i":-0.125},{"s":12,"t":0.8,"i":-0.127},{"s":12,"t":0.85,"i":-0.118},{"s":12,"t":0.9,"i":-0.124},{"s":12,"t":0.95,"i":-0.116},{"s":12,"t":1,"i":-0.126},{"s":12,"t":1.05,"i":-0.121},
      {"s":12,"t":1.1,"i":-0.128},{"s":12,"t":1.15,"i":-0.117},{"s":12,"t":1.2,"i":-0.125},{"s":12,"t":1.25,"i":-0.119},{"s":12,"t":1.3,"i":-0.127},{"s":12,"t":1.35,"i":-0.116},{"s":12,"t":1.4,"i":-0.124},{"s":12,"t":1.45,"i":-0.118},{"s":12,"t":1.5,"i":-0.128},{"s":12,"t":1.55,"i":-0.12},
      {"s":12,"t":1.6,"i":-0.126},{"s":12,"t":1.65,"i":-0.117},{"s":12,"t":1.7,"i":-0.125},{"s":12,"t":1.75,"i":-0.116},{"s":12,"t":1.8,"i":-0.127},{"s":12,"t":1.85,"i":-0.121},{"s":12,"t":1.9,"i":-0.126},{"s":12,"t":1.95,"i":-0.117},{"s":12,"t":2,"i":-0.128},{"s":12,"t":2.05,"i":-0.119},
      {"s":12,"t":2.1,"i":-0.124},{"s":12,"t":2.15,"i":-0.118},{"s":12,"t":2.2,"i":-0.127},{"s":12,"t":2.25,"i":-0.116},{"s":12,"t":2.3,"i":-0.125},{"s":12,"t":2.35,"i":-0.12},{"s":12,"t":2.4,"i":-0.128},{"s":12,"t":2.45,"i":-0.118},{"s":12,"t":2.5,"i":-0.126},{"s":12,"t":2.55,"i":-0.117},
      {"s":12,"t":2.6,"i":-0.124},{"s":12,"t":2.65,"i":-0.119},{"s":12,"t":2.7,"i":-0.128},{"s":12,"t":2.75,"i":-0.116},{"s":12,"t":2.8,"i":-0.125},{"s":12,"t":2.85,"i":-0.121},{"s":12,"t":2.9,"i":-0.127},{"s":12,"t":2.95,"i":-0.118},{"s":12,"t":3,"i":-0.126},{"s":12,"t":3.05,"i":-0.116},{"s":12,"t":3.1,"i":-0.124},
      {"s":12,"t":3.101,"i":-0.05},{"s":12,"t":3.15,"i":-0.028},{"s":12,"t":3.2,"i":0.004},{"s":12,"t":3.25,"i":0.014},{"s":12,"t":3.3,"i":0.026},{"s":12,"t":3.35,"i":-0.004},{"s":12,"t":3.4,"i":0.01},{"s":12,"t":3.45,"i":0.032},{"s":12,"t":3.5,"i":-0.014},{"s":12,"t":3.55,"i":0.002},{"s":12,"t":3.6,"i":0.022},

      {"s":13,"t":0,"i":-0.004},{"s":13,"t":0.025,"i":0.008},{"s":13,"t":0.05,"i":0.02},{"s":13,"t":0.075,"i":-0.016},{"s":13,"t":0.1,"i":0.004},
      {"s":13,"t":0.101,"i":-0.14},{"s":13,"t":0.15,"i":-0.149},{"s":13,"t":0.2,"i":-0.143},{"s":13,"t":0.25,"i":-0.151},{"s":13,"t":0.3,"i":-0.141},{"s":13,"t":0.35,"i":-0.146},{"s":13,"t":0.4,"i":-0.139},{"s":13,"t":0.45,"i":-0.15},{"s":13,"t":0.5,"i":-0.142},{"s":13,"t":0.55,"i":-0.148},
      {"s":13,"t":0.6,"i":-0.14},{"s":13,"t":0.65,"i":-0.151},{"s":13,"t":0.7,"i":-0.143},{"s":13,"t":0.75,"i":-0.149},{"s":13,"t":0.8,"i":-0.139},{"s":13,"t":0.85,"i":-0.147},{"s":13,"t":0.9,"i":-0.141},{"s":13,"t":0.95,"i":-0.15},{"s":13,"t":1,"i":-0.142},{"s":13,"t":1.05,"i":-0.151},
      {"s":13,"t":1.1,"i":-0.14},{"s":13,"t":1.15,"i":-0.146},{"s":13,"t":1.2,"i":-0.141},{"s":13,"t":1.25,"i":-0.15},{"s":13,"t":1.3,"i":-0.139},{"s":13,"t":1.35,"i":-0.148},{"s":13,"t":1.4,"i":-0.143},{"s":13,"t":1.45,"i":-0.149},{"s":13,"t":1.5,"i":-0.14},{"s":13,"t":1.55,"i":-0.151},
      {"s":13,"t":1.6,"i":-0.142},{"s":13,"t":1.65,"i":-0.147},{"s":13,"t":1.7,"i":-0.139},{"s":13,"t":1.75,"i":-0.149},{"s":13,"t":1.8,"i":-0.141},{"s":13,"t":1.85,"i":-0.15},{"s":13,"t":1.9,"i":-0.143},{"s":13,"t":1.95,"i":-0.148},{"s":13,"t":2,"i":-0.139},{"s":13,"t":2.05,"i":-0.151},
      {"s":13,"t":2.1,"i":-0.142},{"s":13,"t":2.15,"i":-0.146},{"s":13,"t":2.2,"i":-0.14},{"s":13,"t":2.25,"i":-0.149},{"s":13,"t":2.3,"i":-0.141},{"s":13,"t":2.35,"i":-0.151},{"s":13,"t":2.4,"i":-0.143},{"s":13,"t":2.45,"i":-0.148},{"s":13,"t":2.5,"i":-0.14},{"s":13,"t":2.55,"i":-0.15},
      {"s":13,"t":2.6,"i":-0.139},{"s":13,"t":2.65,"i":-0.147},{"s":13,"t":2.7,"i":-0.142},{"s":13,"t":2.75,"i":-0.149},{"s":13,"t":2.8,"i":-0.15},{"s":13,"t":2.85,"i":-0.141},{"s":13,"t":2.9,"i":-0.148},{"s":13,"t":2.95,"i":-0.139},{"s":13,"t":3,"i":-0.147},{"s":13,"t":3.05,"i":-0.151},{"s":13,"t":3.1,"i":-0.142},
      {"s":13,"t":3.101,"i":-0.048},{"s":13,"t":3.15,"i":-0.012},{"s":13,"t":3.2,"i":0.018},{"s":13,"t":3.25,"i":-0.016},{"s":13,"t":3.3,"i":0.006},{"s":13,"t":3.35,"i":0.036},{"s":13,"t":3.4,"i":-0.02},{"s":13,"t":3.45,"i":0.008},{"s":13,"t":3.5,"i":0.028},{"s":13,"t":3.55,"i":-0.008},{"s":13,"t":3.6,"i":0.014},

      {"s":14,"t":0,"i":0.02},{"s":14,"t":0.025,"i":-0.006},{"s":14,"t":0.05,"i":-0.014},{"s":14,"t":0.075,"i":0.008},{"s":14,"t":0.1,"i":-0.008},
      {"s":14,"t":0.101,"i":-0.17},{"s":14,"t":0.15,"i":-0.159},{"s":14,"t":0.2,"i":-0.167},{"s":14,"t":0.25,"i":-0.161},{"s":14,"t":0.3,"i":-0.171},{"s":14,"t":0.35,"i":-0.163},{"s":14,"t":0.4,"i":-0.169},{"s":14,"t":0.45,"i":-0.16},{"s":14,"t":0.5,"i":-0.168},{"s":14,"t":0.55,"i":-0.159},
      {"s":14,"t":0.6,"i":-0.17},{"s":14,"t":0.65,"i":-0.185},{"s":14,"t":0.7,"i":-0.169},{"s":14,"t":0.75,"i":-0.16},{"s":14,"t":0.8,"i":-0.171},{"s":14,"t":0.85,"i":-0.162},{"s":14,"t":0.9,"i":-0.167},{"s":14,"t":0.95,"i":-0.161},{"s":14,"t":1,"i":-0.17},{"s":14,"t":1.05,"i":-0.159},
      {"s":14,"t":1.1,"i":-0.168},{"s":14,"t":1.15,"i":-0.163},{"s":14,"t":1.2,"i":-0.171},{"s":14,"t":1.25,"i":-0.161},{"s":14,"t":1.3,"i":-0.169},{"s":14,"t":1.35,"i":-0.16},{"s":14,"t":1.4,"i":-0.167},{"s":14,"t":1.45,"i":-0.162},{"s":14,"t":1.5,"i":-0.171},{"s":14,"t":1.55,"i":-0.159},
      {"s":14,"t":1.6,"i":-0.168},{"s":14,"t":1.65,"i":-0.164},{"s":14,"t":1.7,"i":-0.17},{"s":14,"t":1.75,"i":-0.161},{"s":14,"t":1.8,"i":-0.169},{"s":14,"t":1.85,"i":-0.159},{"s":14,"t":1.9,"i":-0.167},{"s":14,"t":1.95,"i":-0.162},{"s":14,"t":2,"i":-0.17},{"s":14,"t":2.05,"i":-0.19},
      {"s":14,"t":2.1,"i":-0.171},{"s":14,"t":2.15,"i":-0.163},{"s":14,"t":2.2,"i":-0.168},{"s":14,"t":2.25,"i":-0.161},{"s":14,"t":2.3,"i":-0.16},{"s":14,"t":2.35,"i":-0.169},{"s":14,"t":2.4,"i":-0.162},{"s":14,"t":2.45,"i":-0.171},{"s":14,"t":2.5,"i":-0.163},{"s":14,"t":2.55,"i":-0.159},
      {"s":14,"t":2.6,"i":-0.168},{"s":14,"t":2.65,"i":-0.17},{"s":14,"t":2.7,"i":-0.161},{"s":14,"t":2.75,"i":-0.167},{"s":14,"t":2.8,"i":-0.159},{"s":14,"t":2.85,"i":-0.169},{"s":14,"t":2.9,"i":-0.164},{"s":14,"t":2.95,"i":-0.171},{"s":14,"t":3,"i":-0.16},{"s":14,"t":3.05,"i":-0.168},{"s":14,"t":3.1,"i":-0.162},
      {"s":14,"t":3.101,"i":-0.052},{"s":14,"t":3.15,"i":-0.03},{"s":14,"t":3.2,"i":-0.004},{"s":14,"t":3.25,"i":0.024},{"s":14,"t":3.3,"i":-0.01},{"s":14,"t":3.35,"i":0.012},{"s":14,"t":3.4,"i":0.028},{"s":14,"t":3.45,"i":-0.002},{"s":14,"t":3.5,"i":0.014},{"s":14,"t":3.55,"i":0.032},{"s":14,"t":3.6,"i":0},

      {"s":15,"t":0,"i":0.002},{"s":15,"t":0.025,"i":0.014},{"s":15,"t":0.05,"i":0},{"s":15,"t":0.075,"i":0.024},{"s":15,"t":0.1,"i":-0.012},
      {"s":15,"t":0.101,"i":-0.235},{"s":15,"t":0.104,"i":-0.183},{"s":15,"t":0.15,"i":-0.187},{"s":15,"t":0.2,"i":-0.182},{"s":15,"t":0.25,"i":-0.191},{"s":15,"t":0.3,"i":-0.18},{"s":15,"t":0.35,"i":-0.189},{"s":15,"t":0.4,"i":-0.184},{"s":15,"t":0.45,"i":-0.19},{"s":15,"t":0.5,"i":-0.181},{"s":15,"t":0.55,"i":-0.192},
      {"s":15,"t":0.6,"i":-0.183},{"s":15,"t":0.65,"i":-0.188},{"s":15,"t":0.7,"i":-0.222},{"s":15,"t":0.75,"i":-0.19},{"s":15,"t":0.8,"i":-0.182},{"s":15,"t":0.85,"i":-0.191},{"s":15,"t":0.9,"i":-0.184},{"s":15,"t":0.95,"i":-0.189},{"s":15,"t":1,"i":-0.18},{"s":15,"t":1.05,"i":-0.192},
      {"s":15,"t":1.1,"i":-0.183},{"s":15,"t":1.15,"i":-0.187},{"s":15,"t":1.2,"i":-0.181},{"s":15,"t":1.25,"i":-0.205},{"s":15,"t":1.3,"i":-0.182},{"s":15,"t":1.35,"i":-0.192},{"s":15,"t":1.4,"i":-0.184},{"s":15,"t":1.45,"i":-0.189},{"s":15,"t":1.5,"i":-0.181},{"s":15,"t":1.55,"i":-0.191},
      {"s":15,"t":1.6,"i":-0.18},{"s":15,"t":1.65,"i":-0.188},{"s":15,"t":1.7,"i":-0.21},{"s":15,"t":1.75,"i":-0.19},{"s":15,"t":1.8,"i":-0.191},{"s":15,"t":1.85,"i":-0.182},{"s":15,"t":1.9,"i":-0.189},{"s":15,"t":1.95,"i":-0.18},{"s":15,"t":2,"i":-0.188},{"s":15,"t":2.05,"i":-0.192},
      {"s":15,"t":2.1,"i":-0.183},{"s":15,"t":2.15,"i":-0.181},{"s":15,"t":2.2,"i":-0.19},{"s":15,"t":2.25,"i":-0.184},{"s":15,"t":2.3,"i":-0.252},{"s":15,"t":2.35,"i":-0.182},{"s":15,"t":2.4,"i":-0.187},{"s":15,"t":2.45,"i":-0.18},{"s":15,"t":2.5,"i":-0.212},{"s":15,"t":2.55,"i":-0.183},
      {"s":15,"t":2.6,"i":-0.189},{"s":15,"t":2.65,"i":-0.181},{"s":15,"t":2.7,"i":-0.192},{"s":15,"t":2.75,"i":-0.184},{"s":15,"t":2.8,"i":-0.19},{"s":15,"t":2.85,"i":-0.18},{"s":15,"t":2.9,"i":-0.188},{"s":15,"t":2.95,"i":-0.182},{"s":15,"t":3,"i":-0.191},{"s":15,"t":3.05,"i":-0.183},{"s":15,"t":3.1,"i":-0.192},
      {"s":15,"t":3.101,"i":-0.305},{"s":15,"t":3.104,"i":-0.055},{"s":15,"t":3.15,"i":-0.02},{"s":15,"t":3.2,"i":0.012},{"s":15,"t":3.25,"i":-0.002},{"s":15,"t":3.3,"i":0.022},{"s":15,"t":3.35,"i":-0.014},{"s":15,"t":3.4,"i":0.006},{"s":15,"t":3.45,"i":0.024},{"s":15,"t":3.5,"i":-0.024},{"s":15,"t":3.55,"i":0.01},{"s":15,"t":3.6,"i":0.03}
    ],
    "notes": [
      {"label": "HCN3\u00a0 Human\u00a0 CHO_FT", "t": 0.078, "i": 0.195, "kind": "title"},
      {"label": "35 °C\u00a0 Activation", "t": 3.588, "i": 0.163, "kind": "condition"},
      {"label": "BBP Channelpedia ID 34826 rep 1", "t": 3.66, "i": -0.196, "kind": "source"}
    ]
  },
  "layer": [
    {
      "data": {"name": "traces"},
      "mark": {"type": "line", "color": "#ff0000", "strokeWidth": 3.4, "strokeJoin": "miter", "clip": true},
      "encoding": {
        "x": {
          "field": "t",
          "type": "quantitative",
          "scale": {"domain": [0, 3.6], "nice": false, "zero": false},
          "axis": {
            "title": "t [s]",
            "values": [0.1, 3.1],
            "format": ".1f",
            "grid": false,
            "tickSize": -6,
            "labelPadding": 16,
            "titlePadding": 6
          }
        },
        "y": {
          "field": "i",
          "type": "quantitative",
          "scale": {"domain": [-0.5625, 0.17], "nice": false, "zero": false},
          "axis": {
            "title": "I [nA]",
            "values": [-0.4, -0.2, 0],
            "format": ".1~f",
            "labelExpr": "replace(datum.label, '\u2212', '-')",
            "grid": false,
            "tickSize": -6,
            "labelPadding": 16,
            "titlePadding": 8
          }
        },
        "detail": {"field": "s", "type": "nominal"}
      }
    },
    {
      "data": {"name": "notes"},
      "transform": [{"filter": "datum.kind == 'title'"}],
      "mark": {"type": "text", "align": "left", "baseline": "alphabetic", "font": "DejaVu Sans", "fontSize": 23, "fontWeight": "bold", "color": "#000000"},
      "encoding": {
        "x": {"field": "t", "type": "quantitative"},
        "y": {"field": "i", "type": "quantitative"},
        "text": {"field": "label"}
      }
    },
    {
      "data": {"name": "notes"},
      "transform": [{"filter": "datum.kind == 'condition'"}],
      "mark": {"type": "text", "align": "right", "baseline": "alphabetic", "font": "DejaVu Sans", "fontSize": 18.5, "color": "#000000"},
      "encoding": {
        "x": {"field": "t", "type": "quantitative"},
        "y": {"field": "i", "type": "quantitative"},
        "text": {"field": "label"}
      }
    },
    {
      "data": {"name": "notes"},
      "transform": [{"filter": "datum.kind == 'source'"}],
      "mark": {"type": "text", "align": "center", "baseline": "middle", "angle": 270, "font": "DejaVu Sans", "fontSize": 13.5, "color": "#000000"},
      "encoding": {
        "x": {"field": "t", "type": "quantitative"},
        "y": {"field": "i", "type": "quantitative"},
        "text": {"field": "label"}
      }
    }
  ],
  "config": {
    "view": {"stroke": null},
    "axis": {
      "labelFont": "DejaVu Sans",
      "labelFontSize": 23,
      "labelColor": "#262626",
      "titleFont": "DejaVu Sans",
      "titleFontSize": 25,
      "titleFontWeight": "normal",
      "titleColor": "#262626",
      "domainColor": "#262626",
      "domainWidth": 0.8,
      "tickColor": "#262626",
      "tickWidth": 0.8
    }
  }
}
